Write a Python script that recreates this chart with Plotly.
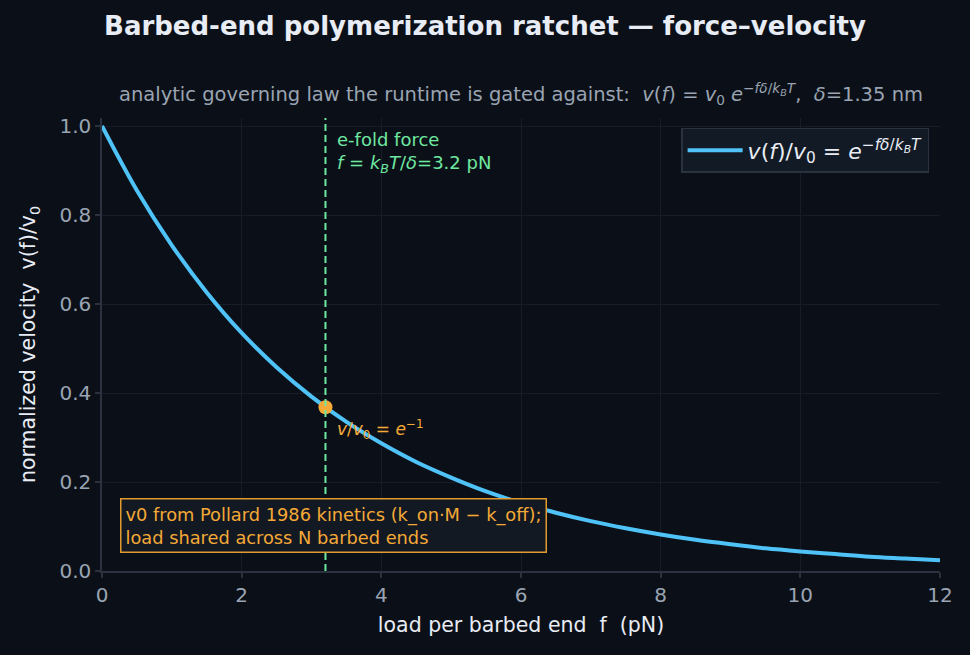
import plotly.graph_objects as go

# data
force_pN = [0, 0.5, 1, 1.5, 2, 2.5, 3, 3.5, 4, 4.5, 5, 5.5, 6, 6.5, 7, 7.5, 8,
            8.5, 9, 9.5, 10, 10.5, 11, 11.5, 12]
v_norm = [1.000, 0.855, 0.732, 0.626, 0.535, 0.458, 0.392, 0.335, 0.287, 0.245,
          0.210, 0.179, 0.153, 0.131, 0.112, 0.096, 0.082, 0.070, 0.060, 0.051,
          0.044, 0.038, 0.032, 0.028, 0.024]
efold_force = 3.2
efold_value = 0.368
x_ticks = [0, 2, 4, 6, 8, 10, 12]
y_ticks = [0.0, 0.2, 0.4, 0.6, 0.8, 1.0]

BG = "#0b1018"
FONT = "DejaVu Sans"
BLUE = "#4fc3f7"
GREEN = "#6ee7a0"
ORANGE = "#f5a937"
GRID = "#161d28"
AXIS = "#2a3240"
TICKC = "#9aa4b2"
LIGHT = "#e8ecf4"

fig = go.Figure()
fig.add_trace(go.Scatter(
    x=force_pN, y=v_norm, mode="lines", line=dict(color=BLUE, width=4, shape="spline"),
    name="<i>v</i>(<i>f</i>)/<i>v</i><sub>0</sub> = <i>e</i><sup>−<i>fδ</i>/<i>k<sub>B</sub>T</i></sup>",
))
fig.add_trace(go.Scatter(
    x=[efold_force], y=[efold_value], mode="markers",
    marker=dict(color=ORANGE, size=14), showlegend=False,
))

fig.add_shape(type="line", x0=efold_force, x1=efold_force, y0=0, y1=1, yref="paper",
              line=dict(color=GREEN, width=2, dash="7px,4px"))

fig.add_annotation(x=efold_force, y=1.0, xref="x", yref="y",
                   text="e-fold force<br><i>f</i> = <i>k</i><sub><i>B</i></sub><i>T</i>/<i>δ</i>=3.2 pN",
                   showarrow=False, xanchor="left", yanchor="top", align="left",
                   xshift=10, yshift=-1, font=dict(family=FONT, size=18, color=GREEN))
fig.add_annotation(x=efold_force, y=efold_value, xref="x", yref="y",
                   text="<i>v</i>/<i>v</i><sub>0</sub> = <i>e</i><sup>−1</sup>",
                   showarrow=False, xanchor="left", yanchor="top",
                   xshift=10, yshift=-8, font=dict(family=FONT, size=17, color=ORANGE))
fig.add_annotation(x=0.26, y=0.164, xref="x", yref="y",
                   text="v0 from Pollard 1986 kinetics (k_on·M − k_off);<br>load shared across N barbed ends",
                   showarrow=False, xanchor="left", yanchor="top", align="left",
                   font=dict(family=FONT, size=17.8, color=ORANGE),
                   bgcolor="#121922", bordercolor="#e09a2e", borderwidth=1.5, borderpad=4)

fig.add_annotation(x=0.5, y=1.0, xref="paper", yref="paper", yshift=8,
                   text="analytic governing law the runtime is gated against:  <i>v</i>(<i>f</i>) = <i>v</i><sub>0</sub> <i>e</i><sup>−<i>fδ</i>/<i>k<sub>B</sub>T</i></sup>,  <i>δ</i>=1.35 nm",
                   showarrow=False, xanchor="center", yanchor="bottom",
                   font=dict(family=FONT, size=19.5, color="#9aa4b2"))

fig.update_layout(
    width=970, height=655,
    paper_bgcolor=BG, plot_bgcolor=BG,
    margin=dict(l=102, r=30, t=118, b=84),
    title=dict(text="<b>Barbed-end polymerization ratchet — force–velocity</b>",
               x=0.5, xanchor="center", y=0.96, yanchor="middle",
               font=dict(family=FONT, size=26, color=LIGHT)),
    font=dict(family=FONT, color=TICKC),
    legend=dict(x=0.987, y=0.978, xanchor="right", yanchor="top", itemwidth=55,
                bgcolor="#121a26", bordercolor="#2a3240", borderwidth=1.5,
                font=dict(family=FONT, size=22, color=LIGHT)),
    xaxis=dict(range=[0, 12], tickvals=x_ticks, showgrid=True, gridcolor=GRID,
               zeroline=False, showline=True, linecolor=AXIS, linewidth=1.5,
               ticks="outside", ticklen=5, tickcolor=AXIS, tickwidth=1.5,
               tickfont=dict(size=20, color=TICKC),
               title=dict(text="load per barbed end  f  (pN)", standoff=12,
                          font=dict(size=20.5, color=LIGHT))),
    yaxis=dict(range=[0, 1.018], tickvals=y_ticks, tickformat=".1f", showgrid=True,
               gridcolor=GRID, zeroline=False, showline=True, linecolor=AXIS, linewidth=1.5,
               ticks="outside", ticklen=5, tickcolor=AXIS, tickwidth=1.5,
               tickfont=dict(size=20, color=TICKC),
               title=dict(text="normalized velocity  v(f)/v<sub>0</sub>", standoff=18,
                          font=dict(size=20.5, color=LIGHT))),
)

fig.write_html("out.html", config={"displayModeBar": False},
               post_script="document.body.style.margin='0';document.body.style.background='#0b1018';")
